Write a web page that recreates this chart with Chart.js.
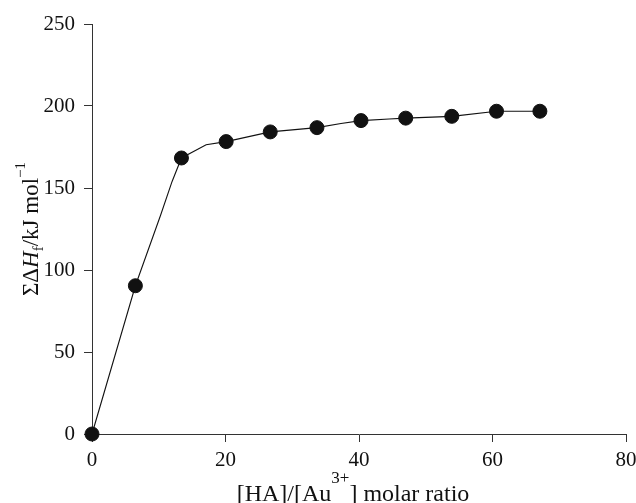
<!DOCTYPE html>
<html>
<head>
<meta charset="utf-8">
<script src="https://cdn.jsdelivr.net/npm/chart.js@4.4.0/dist/chart.umd.min.js"></script>
<style>
	html, body { margin: 0; padding: 0; background: #fff; }
</style>
</head>
<body>
<canvas id="chart1" width="636" height="503"></canvas>
<script>

// measured titration points
var ratio = [0, 6.5, 13.4, 20.1, 26.7, 33.7, 40.3, 47.0, 53.9, 60.6, 67.1];
var enthalpy = [0, 90.4, 168.3, 178.3, 184.2, 186.8, 191.1, 192.6, 193.7, 196.8, 196.8];

// guide curve drawn through the points
var curveX = [0, 6.5, 10.3, 12.0, 13.4, 17.1, 20.1, 26.7, 33.7, 37.3, 40.3, 44.5, 47.0, 53.9, 60.6, 67.1];
var curveY = [0, 90.4, 133.7, 154.0, 168.3, 176.4, 178.3, 184.2, 186.8, 189.3, 191.1, 192.1, 192.6, 193.7, 196.8, 196.8];

var xTicks = [0, 20, 40, 60, 80];
var yTicks = [0, 50, 100, 150, 200, 250];

var serif = '"Liberation Serif", "Times New Roman", serif';

// draws a label made of runs (italic, sub/superscript), centred on 0,0
function drawRich(ctx, parts, size) {
	var total = 0;
	parts.forEach(function (p) {
		ctx.font = (p.italic ? 'italic ' : '') + Math.round(size * (p.scale || 1)) + 'px ' + serif;
		p.w = ctx.measureText(p.text).width;
		total += p.w;
	});
	var x = -total / 2;
	parts.forEach(function (p) {
		ctx.font = (p.italic ? 'italic ' : '') + Math.round(size * (p.scale || 1)) + 'px ' + serif;
		ctx.fillText(p.text, x, (p.dy || 0) * size);
		x += p.w;
	});
}

var axisTitles = {
	id: 'axisTitles',
	afterDraw: function (chart) {
		var ctx = chart.ctx;
		var area = chart.chartArea;
		ctx.save();
		ctx.fillStyle = '#111';
		ctx.textBaseline = 'alphabetic';
		ctx.textAlign = 'left';

		ctx.save();
		ctx.translate(353, 501);
		drawRich(ctx, [
			{ text: '[HA]/[Au' },
			{ text: '3+', scale: 0.72, dy: -0.75 },
			{ text: '] molar ratio' }
		], 24);
		ctx.restore();

		ctx.save();
		ctx.translate(37.5, (area.top + area.bottom) / 2);
		ctx.rotate(-Math.PI / 2);
		drawRich(ctx, [
			{ text: '\u03A3\u0394' },
			{ text: 'H', italic: true },
			{ text: 'f', scale: 0.65, dy: 0.25 },
			{ text: '/kJ mol' },
			{ text: '\u22121', scale: 0.65, dy: -0.55 }
		], 23);
		ctx.restore();

		ctx.restore();
	}
};

var ctx = document.getElementById('chart1').getContext('2d');
var chart = new Chart(ctx, {
	type: 'scatter',
	data: {
		datasets: [{
			label: 'points',
			data: ratio.map(function (x, i) { return { x: x, y: enthalpy[i] }; }),
			backgroundColor: '#111',
			borderColor: '#111',
			pointRadius: 7,
			showLine: false,
			clip: false,
			order: 0
		}, {
			label: 'curve',
			data: curveX.map(function (x, i) { return { x: x, y: curveY[i] }; }),
			borderColor: '#111',
			borderWidth: 1.1,
			pointRadius: 0,
			showLine: true,
			tension: 0,
			clip: false,
			order: 1
		}]
	},
	options: {
		responsive: false,
		animation: false,
		layout: { padding: { top: 24, right: 0, left: 0, bottom: 0 } },
		plugins: {
			legend: { display: false },
			tooltip: { enabled: false }
		},
		scales: {
			x: {
				type: 'linear',
				min: 0,
				max: 80,
				afterBuildTicks: function (axis) {
					axis.ticks = xTicks.map(function (v) { return { value: v }; });
				},
				afterFit: function (scale) {
					scale.height = 69;
					scale.paddingRight = 10;
				},
				grid: { drawOnChartArea: false, tickLength: 8, color: '#333' },
				border: { color: '#333' },
				ticks: {
					font: { family: serif, size: 21 },
					color: '#111',
					padding: 6,
					maxRotation: 0
				}
			},
			y: {
				min: 0,
				max: 250,
				afterBuildTicks: function (axis) {
					axis.ticks = yTicks.map(function (v) { return { value: v }; });
				},
				afterFit: function (scale) { scale.width = 92; },
				grid: { drawOnChartArea: false, tickLength: 8, color: '#333' },
				border: { color: '#333' },
				ticks: {
					font: { family: serif, size: 21 },
					color: '#111',
					padding: 9
				}
			}
		}
	},
	plugins: [axisTitles]
});

</script>
</body>
</html>
